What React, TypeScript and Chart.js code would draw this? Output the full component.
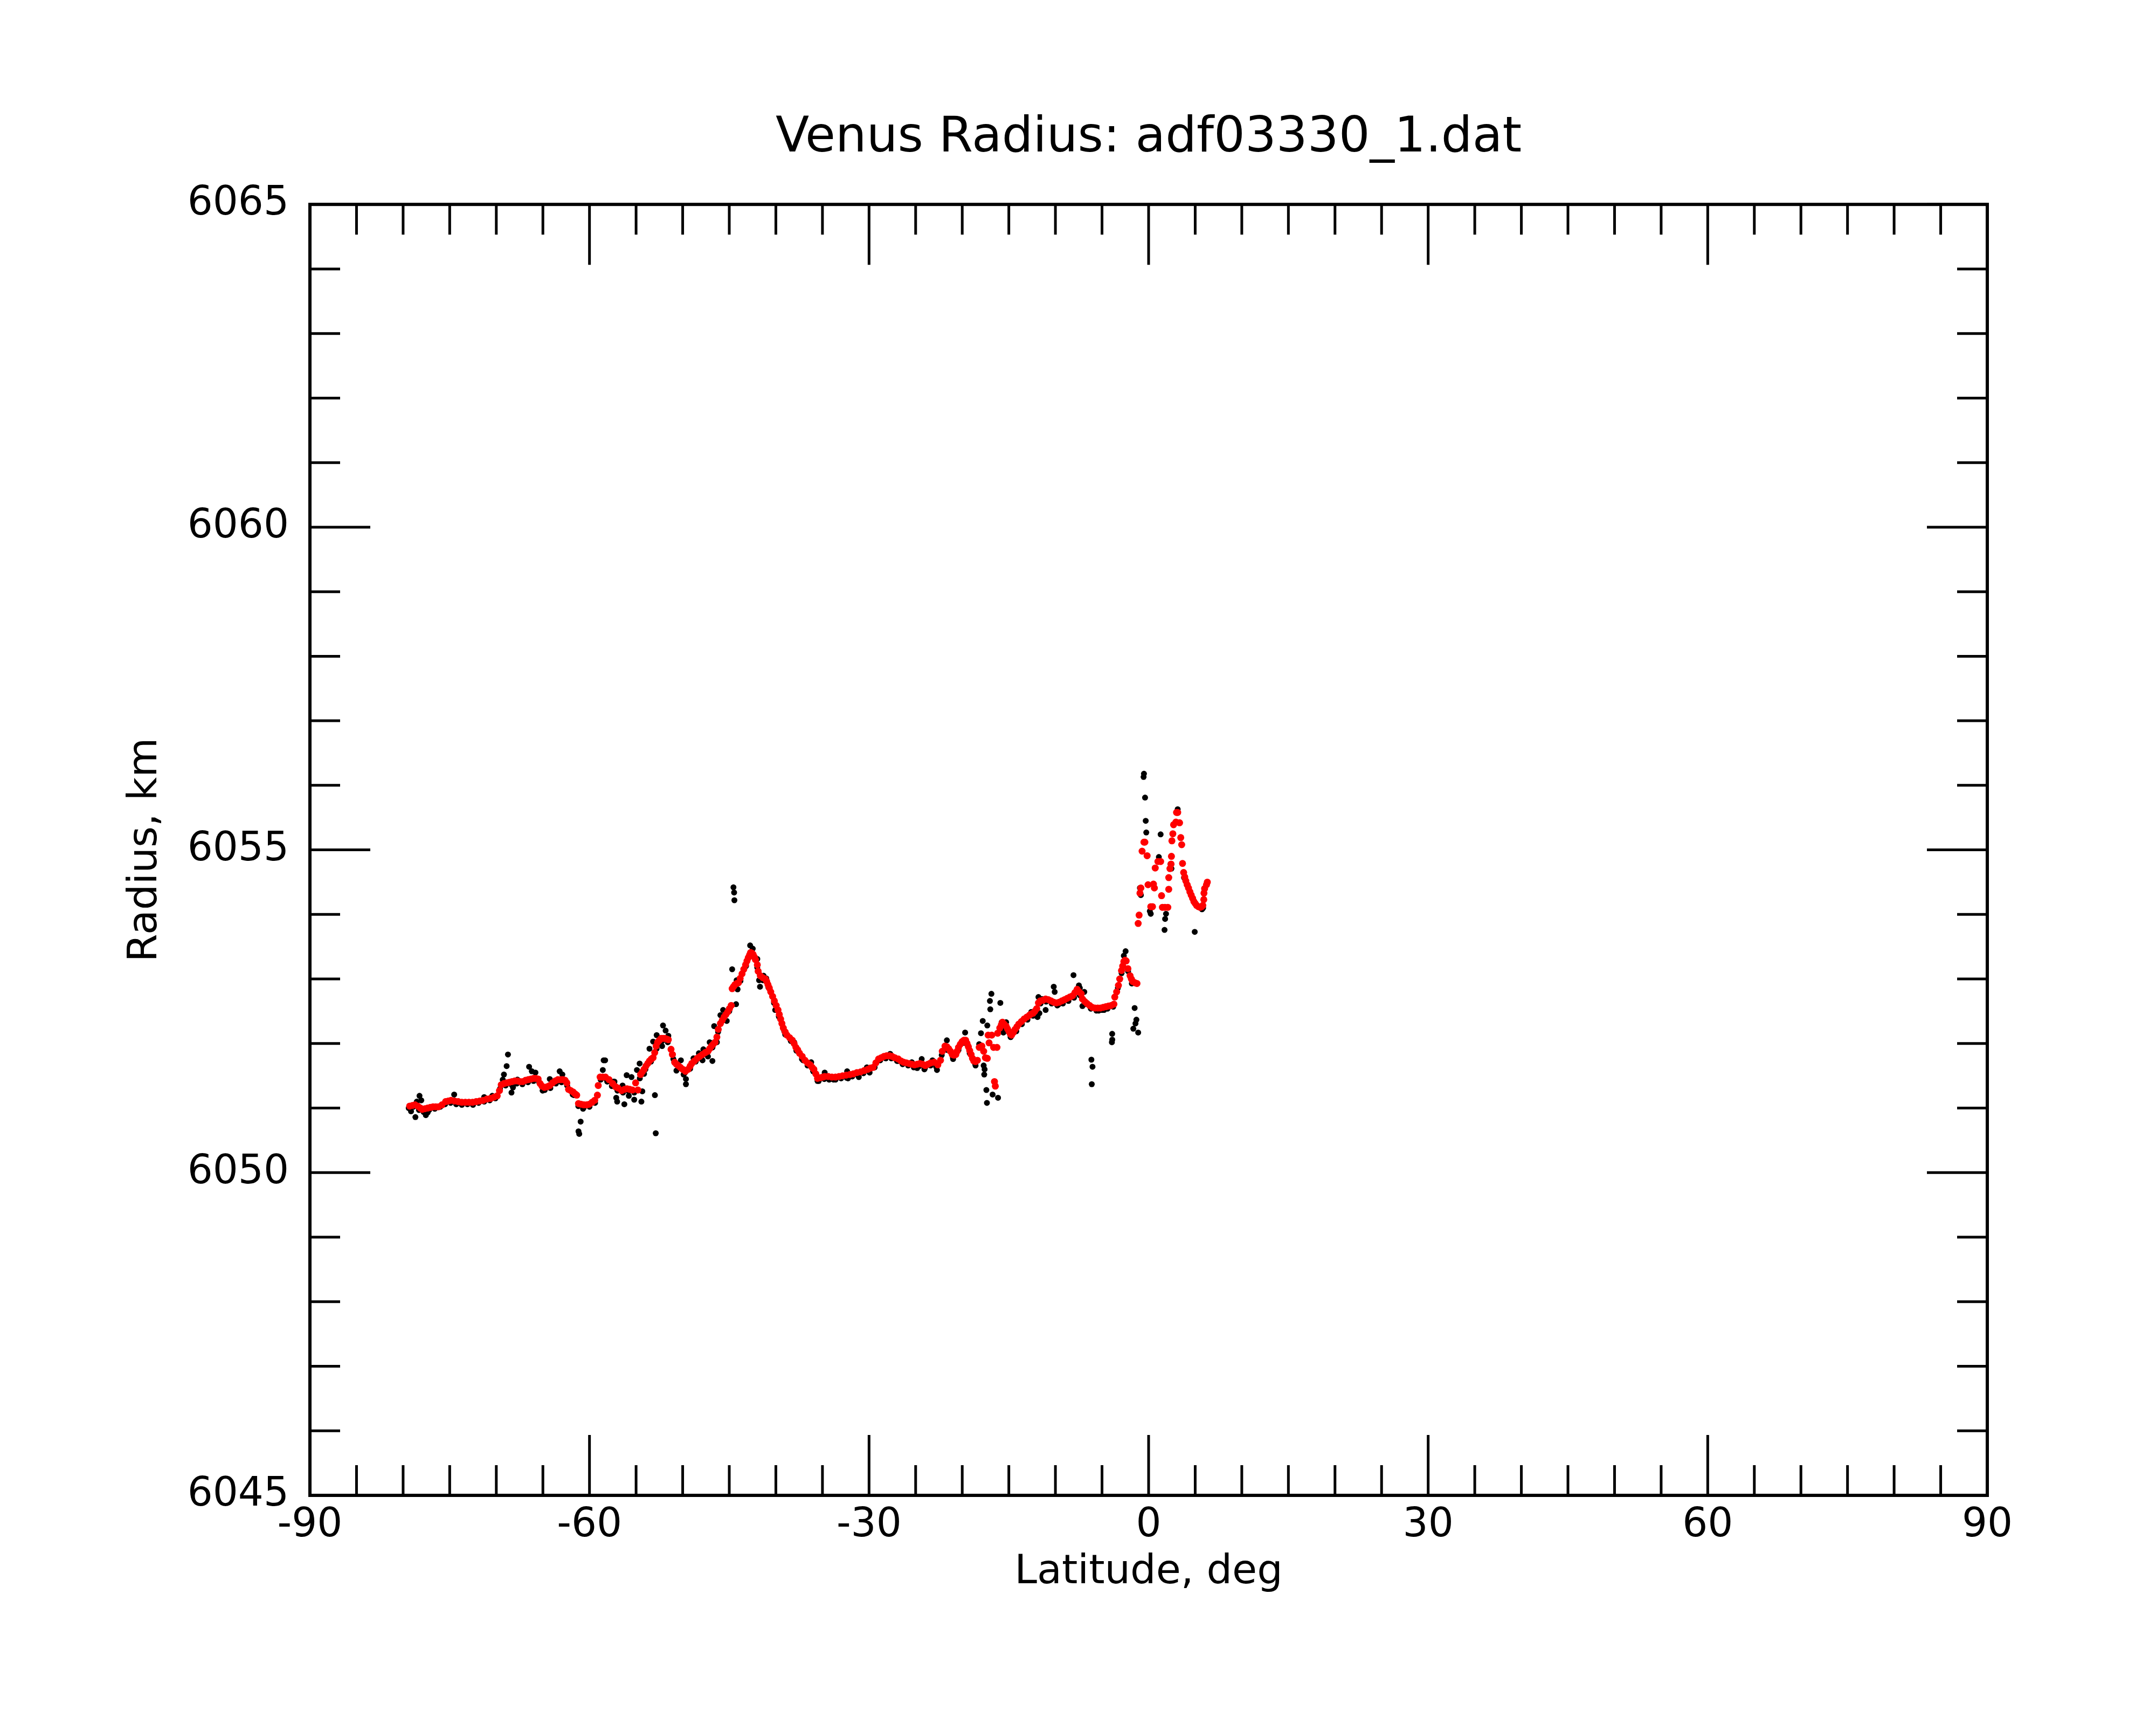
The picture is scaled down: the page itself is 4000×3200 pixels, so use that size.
import { Chart, registerables } from "chart.js";
import { useEffect, useRef } from "react";

Chart.register(...registerables);
Chart.defaults.font.family = "'DejaVu Sans', sans-serif";
Chart.defaults.color = "#000";

const chartTitle = "Venus Radius: adf03330_1.dat";
const xTitle = "Latitude, deg";
const yTitle = "Radius, km";

const latRange = [-90, 90];
const radiusRange = [6045, 6065];
const latMajor = 30;
const latMinor = 5;
const radiusMajor = 5;
const radiusMinor = 1;

// smoothed profile (red), [latitude, radius]
const smoothed: [number, number][] = [
	[-79.30, 6051.03], [-79.00, 6051.04], [-78.72, 6051.05], [-78.43, 6051.03], [-78.14, 6051.00],
	[-77.95, 6050.98], [-77.66, 6050.99], [-77.37, 6051.00], [-77.08, 6051.01], [-76.79, 6051.02],
	[-76.50, 6051.02], [-76.21, 6051.02], [-75.83, 6051.05], [-75.44, 6051.10], [-75.15, 6051.11],
	[-74.86, 6051.12], [-74.48, 6051.11], [-74.09, 6051.10], [-73.70, 6051.09], [-73.32, 6051.09],
	[-72.94, 6051.09], [-72.55, 6051.09], [-72.16, 6051.10], [-71.78, 6051.11], [-71.40, 6051.12],
	[-71.01, 6051.14], [-70.62, 6051.15], [-70.24, 6051.17], [-69.90, 6051.19], [-69.66, 6051.27],
	[-69.47, 6051.36], [-69.18, 6051.38], [-68.89, 6051.39], [-68.60, 6051.40], [-68.31, 6051.41],
	[-68.02, 6051.42], [-67.73, 6051.42], [-67.44, 6051.41], [-67.15, 6051.41], [-66.86, 6051.43],
	[-66.57, 6051.44], [-66.28, 6051.45], [-66.00, 6051.46], [-65.75, 6051.46], [-65.51, 6051.45],
	[-65.30, 6051.38], [-65.10, 6051.34], [-64.84, 6051.32], [-64.55, 6051.33], [-64.26, 6051.35],
	[-63.97, 6051.39], [-63.68, 6051.42], [-63.39, 6051.44], [-63.10, 6051.44], [-62.85, 6051.44],
	[-62.62, 6051.43], [-62.43, 6051.39], [-62.25, 6051.29], [-62.00, 6051.27], [-61.76, 6051.25],
	[-61.55, 6051.22], [-61.37, 6051.20], [-61.18, 6051.07], [-60.90, 6051.06], [-60.60, 6051.05],
	[-60.30, 6051.05], [-60.02, 6051.06], [-59.72, 6051.09], [-59.44, 6051.12], [-59.15, 6051.20],
	[-59.06, 6051.35], [-58.86, 6051.48], [-58.58, 6051.48], [-58.29, 6051.48], [-57.90, 6051.44],
	[-57.51, 6051.38], [-57.20, 6051.33], [-56.94, 6051.31], [-56.55, 6051.27], [-56.25, 6051.29],
	[-55.97, 6051.30], [-55.68, 6051.29], [-55.39, 6051.28], [-55.05, 6051.39], [-54.81, 6051.28],
	[-54.52, 6051.52], [-54.33, 6051.56], [-54.14, 6051.60], [-53.95, 6051.65], [-53.75, 6051.69],
	[-53.56, 6051.73], [-53.37, 6051.76], [-53.18, 6051.78], [-53.00, 6051.86], [-52.85, 6051.96],
	[-52.69, 6052.02], [-52.50, 6052.05], [-52.31, 6052.08], [-52.11, 6052.08], [-51.92, 6052.08],
	[-51.73, 6052.07], [-51.54, 6052.06], [-51.25, 6051.91], [-51.10, 6051.83], [-50.86, 6051.71],
	[-50.67, 6051.68], [-50.48, 6051.66], [-50.25, 6051.63], [-49.99, 6051.60], [-49.70, 6051.57],
	[-49.42, 6051.60], [-49.20, 6051.65], [-49.03, 6051.69], [-48.74, 6051.73], [-48.45, 6051.77],
	[-48.16, 6051.80], [-47.87, 6051.83], [-47.58, 6051.86], [-47.29, 6051.88], [-47.10, 6051.92],
	[-46.91, 6051.96], [-46.72, 6051.99], [-46.52, 6052.02], [-46.33, 6052.10], [-46.18, 6052.22],
	[-45.95, 6052.31], [-45.75, 6052.36], [-45.56, 6052.41], [-45.36, 6052.45], [-45.17, 6052.49],
	[-44.98, 6052.54], [-44.79, 6052.59], [-44.69, 6052.85], [-44.55, 6052.88], [-44.40, 6052.91],
	[-44.20, 6052.93], [-44.02, 6052.94], [-43.83, 6053.01], [-43.63, 6053.08], [-43.44, 6053.15],
	[-43.25, 6053.22], [-43.10, 6053.28], [-42.96, 6053.33], [-42.83, 6053.37], [-42.71, 6053.41],
	[-42.57, 6053.40], [-42.44, 6053.38], [-42.31, 6053.34], [-42.19, 6053.30], [-41.99, 6053.22],
	[-41.90, 6053.12], [-41.67, 6053.05], [-41.40, 6053.02], [-41.13, 6053.00], [-40.98, 6052.96],
	[-40.84, 6052.91], [-40.70, 6052.86], [-40.55, 6052.80], [-40.35, 6052.73], [-40.16, 6052.66],
	[-39.97, 6052.59], [-39.77, 6052.52], [-39.63, 6052.45], [-39.49, 6052.38], [-39.35, 6052.31],
	[-39.20, 6052.24], [-39.00, 6052.18], [-38.81, 6052.13], [-38.52, 6052.09], [-38.23, 6052.05],
	[-38.04, 6052.00], [-37.85, 6051.94], [-37.65, 6051.90], [-37.46, 6051.85], [-37.17, 6051.80],
	[-36.88, 6051.74], [-36.60, 6051.70], [-36.31, 6051.67], [-36.11, 6051.63], [-35.92, 6051.60],
	[-35.72, 6051.53], [-35.53, 6051.46], [-35.25, 6051.47], [-34.96, 6051.48], [-34.76, 6051.49],
	[-34.38, 6051.49], [-33.99, 6051.48], [-33.60, 6051.48], [-33.22, 6051.49], [-32.84, 6051.50],
	[-32.45, 6051.51], [-32.06, 6051.52], [-31.68, 6051.53], [-31.30, 6051.55], [-30.91, 6051.56],
	[-30.52, 6051.58], [-30.14, 6051.60], [-29.85, 6051.62], [-29.56, 6051.63], [-29.27, 6051.70],
	[-28.98, 6051.76], [-28.69, 6051.78], [-28.40, 6051.80], [-28.11, 6051.81], [-27.82, 6051.81],
	[-27.53, 6051.80], [-27.24, 6051.78], [-26.86, 6051.76], [-26.57, 6051.73], [-26.28, 6051.71],
	[-25.99, 6051.70], [-25.70, 6051.69], [-25.41, 6051.68], [-25.12, 6051.67], [-24.83, 6051.68],
	[-24.55, 6051.69], [-24.26, 6051.68], [-23.97, 6051.66], [-23.68, 6051.68], [-23.39, 6051.70],
	[-23.00, 6051.71], [-22.62, 6051.67], [-22.33, 6051.74], [-22.14, 6051.88], [-21.85, 6051.96],
	[-21.65, 6051.95], [-21.46, 6051.92], [-21.27, 6051.88], [-21.07, 6051.83], [-20.88, 6051.82],
	[-20.69, 6051.83], [-20.55, 6051.88], [-20.40, 6051.94], [-20.20, 6051.99], [-20.01, 6052.03],
	[-19.82, 6052.05], [-19.63, 6052.05], [-19.48, 6052.00], [-19.34, 6051.95], [-19.20, 6051.89],
	[-19.05, 6051.83], [-18.90, 6051.77], [-18.76, 6051.73], [-18.57, 6051.72], [-18.37, 6051.74],
	[-18.18, 6051.94], [-17.89, 6051.96], [-17.70, 6051.88], [-17.51, 6051.78], [-17.31, 6051.77],
	[-17.22, 6052.13], [-17.12, 6052.01], [-16.83, 6052.13], [-16.64, 6051.94], [-16.54, 6051.41],
	[-16.45, 6051.34], [-16.27, 6051.94], [-16.20, 6052.16], [-15.97, 6052.24], [-15.80, 6052.29],
	[-15.68, 6052.33], [-15.50, 6052.30], [-15.29, 6052.27], [-15.15, 6052.23], [-15.00, 6052.19],
	[-14.85, 6052.15], [-14.71, 6052.13], [-14.52, 6052.17], [-14.33, 6052.22], [-14.13, 6052.26],
	[-13.94, 6052.30], [-13.65, 6052.34], [-13.36, 6052.38], [-13.07, 6052.41], [-12.78, 6052.44],
	[-12.59, 6052.46], [-12.40, 6052.47], [-12.21, 6052.50], [-12.01, 6052.54], [-11.82, 6052.63],
	[-11.63, 6052.66], [-11.35, 6052.67], [-11.05, 6052.69], [-10.76, 6052.68], [-10.47, 6052.66],
	[-10.18, 6052.64], [-9.89, 6052.63], [-9.60, 6052.64], [-9.31, 6052.66], [-9.02, 6052.68],
	[-8.74, 6052.70], [-8.45, 6052.72], [-8.16, 6052.74], [-7.90, 6052.79], [-7.67, 6052.84],
	[-7.45, 6052.80], [-7.23, 6052.77], [-7.10, 6052.69], [-6.85, 6052.65], [-6.61, 6052.62],
	[-6.33, 6052.59], [-6.04, 6052.56], [-5.75, 6052.55], [-5.46, 6052.55], [-5.17, 6052.55],
	[-4.88, 6052.56], [-4.59, 6052.57], [-4.30, 6052.58], [-4.01, 6052.59], [-3.72, 6052.61],
	[-3.63, 6052.72], [-3.43, 6052.80], [-3.24, 6052.90], [-3.10, 6053.00], [-2.91, 6053.13],
	[-2.78, 6053.20], [-2.66, 6053.27], [-2.53, 6053.29], [-2.41, 6053.28], [-2.22, 6053.16],
	[-1.99, 6053.05], [-1.85, 6053.00], [-1.70, 6052.96], [-1.45, 6052.94], [-1.25, 6052.93],
	[-1.12, 6053.86], [-1.02, 6053.99], [-0.93, 6054.33], [-0.83, 6054.41], [-0.70, 6054.98],
	[-0.50, 6055.12], [-0.40, 6055.12], [-0.16, 6054.91], [-0.06, 6054.46], [0.23, 6054.12],
	[0.42, 6054.12], [0.52, 6054.47], [0.62, 6054.41], [0.71, 6054.72], [1.00, 6054.82],
	[1.29, 6054.82], [1.39, 6054.29], [1.48, 6054.11], [1.75, 6054.11], [2.06, 6054.11],
	[2.16, 6054.39], [2.16, 6054.57], [2.29, 6054.71], [2.41, 6054.78], [2.45, 6054.90],
	[2.50, 6055.14], [2.60, 6055.25], [2.68, 6055.39], [2.93, 6055.43], [3.00, 6055.58],
	[3.12, 6055.58], [3.32, 6055.42], [3.45, 6055.19], [3.55, 6055.08], [3.64, 6054.79],
	[3.76, 6054.65], [3.88, 6054.58], [3.99, 6054.52], [4.14, 6054.46], [4.28, 6054.41],
	[4.43, 6054.35], [4.57, 6054.30], [4.72, 6054.25], [4.86, 6054.20], [5.00, 6054.17],
	[5.15, 6054.14], [5.34, 6054.12], [5.53, 6054.11], [5.70, 6054.12], [5.82, 6054.14],
	[5.92, 6054.23], [5.94, 6054.33], [6.01, 6054.40], [6.21, 6054.46], [6.30, 6054.50],
];

// raw measurements (black), [latitude, radius]
const raw: [number, number][] = [
	[-79.40, 6051.00], [-79.15, 6050.95], [-78.90, 6051.02], [-78.68, 6050.86], [-78.53, 6051.10],
	[-78.30, 6050.97], [-78.24, 6051.19], [-78.05, 6051.12], [-77.80, 6050.94], [-77.56, 6050.89],
	[-77.37, 6050.93], [-77.20, 6050.97], [-76.60, 6050.99], [-76.00, 6051.02], [-75.50, 6051.06],
	[-74.90, 6051.08], [-74.52, 6051.21], [-74.30, 6051.06], [-73.70, 6051.05], [-73.10, 6051.06],
	[-72.50, 6051.05], [-71.90, 6051.08], [-71.30, 6051.17], [-71.30, 6051.10], [-70.70, 6051.12],
	[-70.43, 6051.19], [-70.10, 6051.15], [-69.60, 6051.30], [-69.31, 6051.44], [-69.18, 6051.52],
	[-69.00, 6051.35], [-68.89, 6051.65], [-68.75, 6051.83], [-68.40, 6051.37], [-68.37, 6051.24],
	[-68.21, 6051.32], [-67.80, 6051.38], [-67.73, 6051.44], [-67.20, 6051.37], [-66.60, 6051.40],
	[-66.48, 6051.64], [-66.19, 6051.57], [-66.00, 6051.42], [-65.80, 6051.55], [-65.40, 6051.40],
	[-65.03, 6051.27], [-64.80, 6051.28], [-64.26, 6051.45], [-64.20, 6051.31], [-63.60, 6051.38],
	[-63.20, 6051.57], [-63.00, 6051.40], [-62.91, 6051.52], [-62.40, 6051.35], [-61.80, 6051.21],
	[-61.66, 6051.20], [-61.20, 6051.03], [-61.18, 6050.64], [-61.10, 6050.60], [-60.95, 6050.79],
	[-60.69, 6050.99], [-60.60, 6051.01], [-60.00, 6051.02], [-59.40, 6051.08], [-58.80, 6051.44],
	[-58.57, 6051.59], [-58.48, 6051.74], [-58.32, 6051.74], [-58.20, 6051.45], [-58.09, 6051.41],
	[-57.60, 6051.34], [-57.42, 6051.41], [-57.32, 6051.41], [-57.13, 6051.16], [-57.03, 6051.10],
	[-57.00, 6051.27], [-56.45, 6051.35], [-56.40, 6051.24], [-56.26, 6051.06], [-56.01, 6051.51],
	[-55.80, 6051.26], [-55.78, 6051.19], [-55.49, 6051.48], [-55.20, 6051.13], [-55.20, 6051.24],
	[-54.91, 6051.59], [-54.62, 6051.69], [-54.60, 6051.46], [-54.43, 6051.10], [-54.33, 6051.26],
	[-54.14, 6051.53], [-54.00, 6051.60], [-53.56, 6051.92], [-53.40, 6051.72], [-53.17, 6052.03],
	[-52.98, 6051.20], [-52.89, 6050.61], [-52.80, 6051.92], [-52.79, 6052.13], [-52.21, 6051.96],
	[-52.20, 6052.04], [-52.11, 6052.28], [-51.83, 6052.20], [-51.60, 6052.02], [-51.54, 6052.12],
	[-51.00, 6051.76], [-50.67, 6051.58], [-50.40, 6051.62], [-50.19, 6051.74], [-49.90, 6051.52],
	[-49.80, 6051.54], [-49.65, 6051.45], [-49.65, 6051.37], [-49.20, 6051.61], [-48.84, 6051.77],
	[-48.60, 6051.72], [-48.26, 6051.85], [-48.00, 6051.79], [-47.87, 6051.74], [-47.78, 6051.91],
	[-47.40, 6051.84], [-47.29, 6051.80], [-47.10, 6052.02], [-46.81, 6051.73], [-46.80, 6051.94],
	[-46.62, 6052.27], [-46.33, 6052.02], [-46.20, 6052.18], [-45.95, 6052.44], [-45.66, 6052.52],
	[-45.60, 6052.38], [-45.27, 6052.35], [-45.00, 6052.50], [-44.69, 6053.15], [-44.55, 6054.42],
	[-44.48, 6054.34], [-44.45, 6054.22], [-44.40, 6052.87], [-44.27, 6052.61], [-44.21, 6052.98],
	[-44.11, 6052.84], [-43.80, 6052.97], [-43.20, 6053.20], [-42.76, 6053.52], [-42.60, 6053.36],
	[-42.48, 6053.47], [-42.00, 6053.18], [-41.99, 6053.31], [-41.80, 6052.98], [-41.70, 6052.88],
	[-41.40, 6052.98], [-41.32, 6053.05], [-41.03, 6053.01], [-40.80, 6052.87], [-40.20, 6052.63],
	[-40.07, 6052.52], [-39.68, 6052.42], [-39.60, 6052.40], [-39.10, 6052.19], [-39.00, 6052.14],
	[-38.40, 6052.04], [-38.04, 6052.02], [-37.80, 6051.89], [-37.20, 6051.76], [-37.08, 6051.74],
	[-36.60, 6051.66], [-36.21, 6051.71], [-36.00, 6051.57], [-35.53, 6051.42], [-35.40, 6051.42],
	[-34.80, 6051.45], [-34.76, 6051.55], [-34.28, 6051.44], [-34.20, 6051.45], [-33.80, 6051.44],
	[-33.60, 6051.44], [-33.00, 6051.46], [-32.40, 6051.47], [-32.35, 6051.57], [-32.26, 6051.46],
	[-31.80, 6051.49], [-31.20, 6051.51], [-31.10, 6051.48], [-30.60, 6051.54], [-30.23, 6051.63],
	[-30.00, 6051.57], [-29.94, 6051.55], [-29.40, 6051.63], [-28.80, 6051.74], [-28.20, 6051.77],
	[-27.73, 6051.84], [-27.60, 6051.77], [-27.00, 6051.73], [-26.86, 6051.73], [-26.40, 6051.68],
	[-25.80, 6051.66], [-25.41, 6051.71], [-25.20, 6051.63], [-24.83, 6051.62], [-24.60, 6051.65],
	[-24.35, 6051.76], [-24.06, 6051.60], [-24.00, 6051.62], [-23.40, 6051.66], [-23.19, 6051.74],
	[-22.80, 6051.64], [-22.71, 6051.59], [-22.20, 6051.82], [-21.65, 6052.05], [-21.60, 6051.90],
	[-21.00, 6051.78], [-20.98, 6051.76], [-20.40, 6051.90], [-19.80, 6052.01], [-19.69, 6052.17],
	[-19.20, 6051.85], [-18.60, 6051.68], [-18.57, 6051.66], [-18.18, 6051.99], [-17.99, 6052.16],
	[-17.80, 6052.35], [-17.70, 6051.66], [-17.64, 6051.52], [-17.60, 6051.60], [-17.41, 6051.28],
	[-17.35, 6051.08], [-17.31, 6052.28], [-17.03, 6052.66], [-16.99, 6052.53], [-16.87, 6052.77],
	[-16.74, 6051.21], [-16.16, 6051.16], [-15.91, 6052.63], [-15.77, 6052.33], [-15.58, 6052.17],
	[-15.40, 6052.23], [-15.29, 6052.33], [-14.81, 6052.10], [-14.80, 6052.10], [-14.20, 6052.19],
	[-13.60, 6052.30], [-13.00, 6052.37], [-12.59, 6052.49], [-12.40, 6052.43], [-11.92, 6052.41],
	[-11.82, 6052.72], [-11.72, 6052.47], [-11.60, 6052.62], [-11.43, 6052.69], [-11.05, 6052.52],
	[-11.00, 6052.65], [-10.40, 6052.62], [-10.18, 6052.88], [-10.08, 6052.80], [-9.80, 6052.59],
	[-9.70, 6052.60], [-9.20, 6052.62], [-8.60, 6052.66], [-8.06, 6053.06], [-8.00, 6052.71],
	[-7.48, 6052.90], [-7.40, 6052.75], [-7.38, 6052.86], [-7.10, 6052.58], [-6.90, 6052.80],
	[-6.80, 6052.61], [-6.20, 6052.54], [-6.14, 6051.75], [-6.10, 6051.37], [-6.02, 6051.64],
	[-5.60, 6052.51], [-5.36, 6052.51], [-5.00, 6052.52], [-4.78, 6052.52], [-4.40, 6052.54],
	[-3.94, 6052.02], [-3.91, 6052.15], [-3.90, 6052.06], [-3.80, 6052.57], [-3.30, 6052.86],
	[-2.90, 6053.09], [-2.66, 6053.36], [-2.47, 6053.43], [-2.20, 6053.12], [-1.80, 6052.93],
	[-1.64, 6052.23], [-1.50, 6052.55], [-1.41, 6052.31], [-1.31, 6052.37], [-1.12, 6052.17],
	[-0.93, 6054.41], [-0.83, 6054.30], [-0.54, 6056.13], [-0.50, 6056.18], [-0.38, 6055.81],
	[-0.31, 6055.45], [-0.25, 6055.27], [0.13, 6054.05], [0.23, 6054.01], [1.10, 6054.89],
	[1.29, 6055.24], [1.71, 6053.76], [1.77, 6053.93], [1.87, 6054.01], [2.35, 6054.78],
	[2.45, 6054.71], [3.12, 6055.63], [3.80, 6054.57], [4.95, 6053.73], [5.73, 6054.08],
	[5.85, 6054.10],
];

const toXY = (pts: [number, number][]) => pts.map(([x, y]) => ({ x, y }));

// inward ticks on all four sides plus the box
const framePlugin = {
	id: "frame",
	afterDraw(chart: any) {
		const { ctx, chartArea } = chart;
		const { left, right, top, bottom } = chartArea;
		const xs = chart.scales.x;
		const ys = chart.scales.y;
		ctx.save();
		ctx.strokeStyle = "#000";
		ctx.lineWidth = 5;
		ctx.beginPath();
		for (let v = latRange[0]; v <= latRange[1]; v += latMinor) {
			const px = xs.getPixelForValue(v);
			const len = v % latMajor === 0 ? 112 : 56;
			ctx.moveTo(px, bottom);
			ctx.lineTo(px, bottom - len);
			ctx.moveTo(px, top);
			ctx.lineTo(px, top + len);
		}
		for (let v = radiusRange[0]; v <= radiusRange[1]; v += radiusMinor) {
			const py = ys.getPixelForValue(v);
			const len = v % radiusMajor === 0 ? 112 : 56;
			ctx.moveTo(left, py);
			ctx.lineTo(left + len, py);
			ctx.moveTo(right, py);
			ctx.lineTo(right - len, py);
		}
		ctx.stroke();
		ctx.lineWidth = 6;
		ctx.strokeRect(left, top, right - left, bottom - top);
		ctx.restore();
	},
};

export default function App() {
	const chartRef = useRef<HTMLCanvasElement>(null);
	useEffect(() => {
		if (chartRef.current == null) {
			return;
		}

		const chart = new Chart(chartRef.current, {
			type: "scatter",
			data: {
				datasets: [
					{
						label: "smoothed",
						data: toXY(smoothed),
						pointRadius: 6.5,
						pointBorderWidth: 0,
						backgroundColor: "#ff0000",
						borderColor: "#ff0000",
						order: 0,
					},
					{
						label: "raw",
						data: toXY(raw),
						pointRadius: 5.5,
						pointBorderWidth: 0,
						backgroundColor: "#000000",
						borderColor: "#000000",
						order: 1,
					},
				],
			},
			options: {
				animation: false,
				responsive: false,
				devicePixelRatio: 1,
				events: [],
				layout: { padding: { left: 0, right: 313, top: 0, bottom: 0 } },
				plugins: {
					legend: { display: false },
					tooltip: { enabled: false },
					title: {
						display: true,
						text: chartTitle,
						fullSize: false,
						color: "#000",
						font: { size: 91, weight: "normal" },
						padding: { top: 203, bottom: 67 },
					},
				},
				scales: {
					x: {
						type: "linear",
						position: "bottom",
						min: latRange[0],
						max: latRange[1],
						grid: { display: false, drawTicks: false },
						border: { display: false },
						ticks: {
							stepSize: latMajor,
							autoSkip: false,
							maxRotation: 0,
							padding: 12,
							color: "#000",
							font: { size: 74 },
							callback: (v: any) => String(v),
						},
						title: {
							display: true,
							text: xTitle,
							color: "#000",
							font: { size: 75 },
							padding: { top: 0, bottom: 237 },
						},
						afterFit: (s: any) => {
							s.height = 426;
							s.paddingLeft = 0;
							s.paddingRight = 0;
						},
					},
					y: {
						type: "linear",
						min: radiusRange[0],
						max: radiusRange[1],
						grid: { display: false, drawTicks: false },
						border: { display: false },
						ticks: {
							stepSize: radiusMajor,
							padding: 39,
							color: "#000",
							font: { size: 74 },
							callback: (v: any) => String(v),
						},
						title: {
							display: true,
							text: yTitle,
							color: "#000",
							font: { size: 75 },
							padding: { top: 226, bottom: 0 },
						},
						afterFit: (s: any) => {
							s.width = 575;
						},
					},
				},
			},
			plugins: [framePlugin],
		} as any);

		return () => {
			chart.destroy();
		};
	}, []);

	return (
		<div style={{ position: "absolute", left: 0, top: 0, width: 4000, height: 3200, background: "#fff" }}>
			<canvas ref={chartRef} width={4000} height={3200} style={{ display: "block" }} />
		</div>
	);
}
